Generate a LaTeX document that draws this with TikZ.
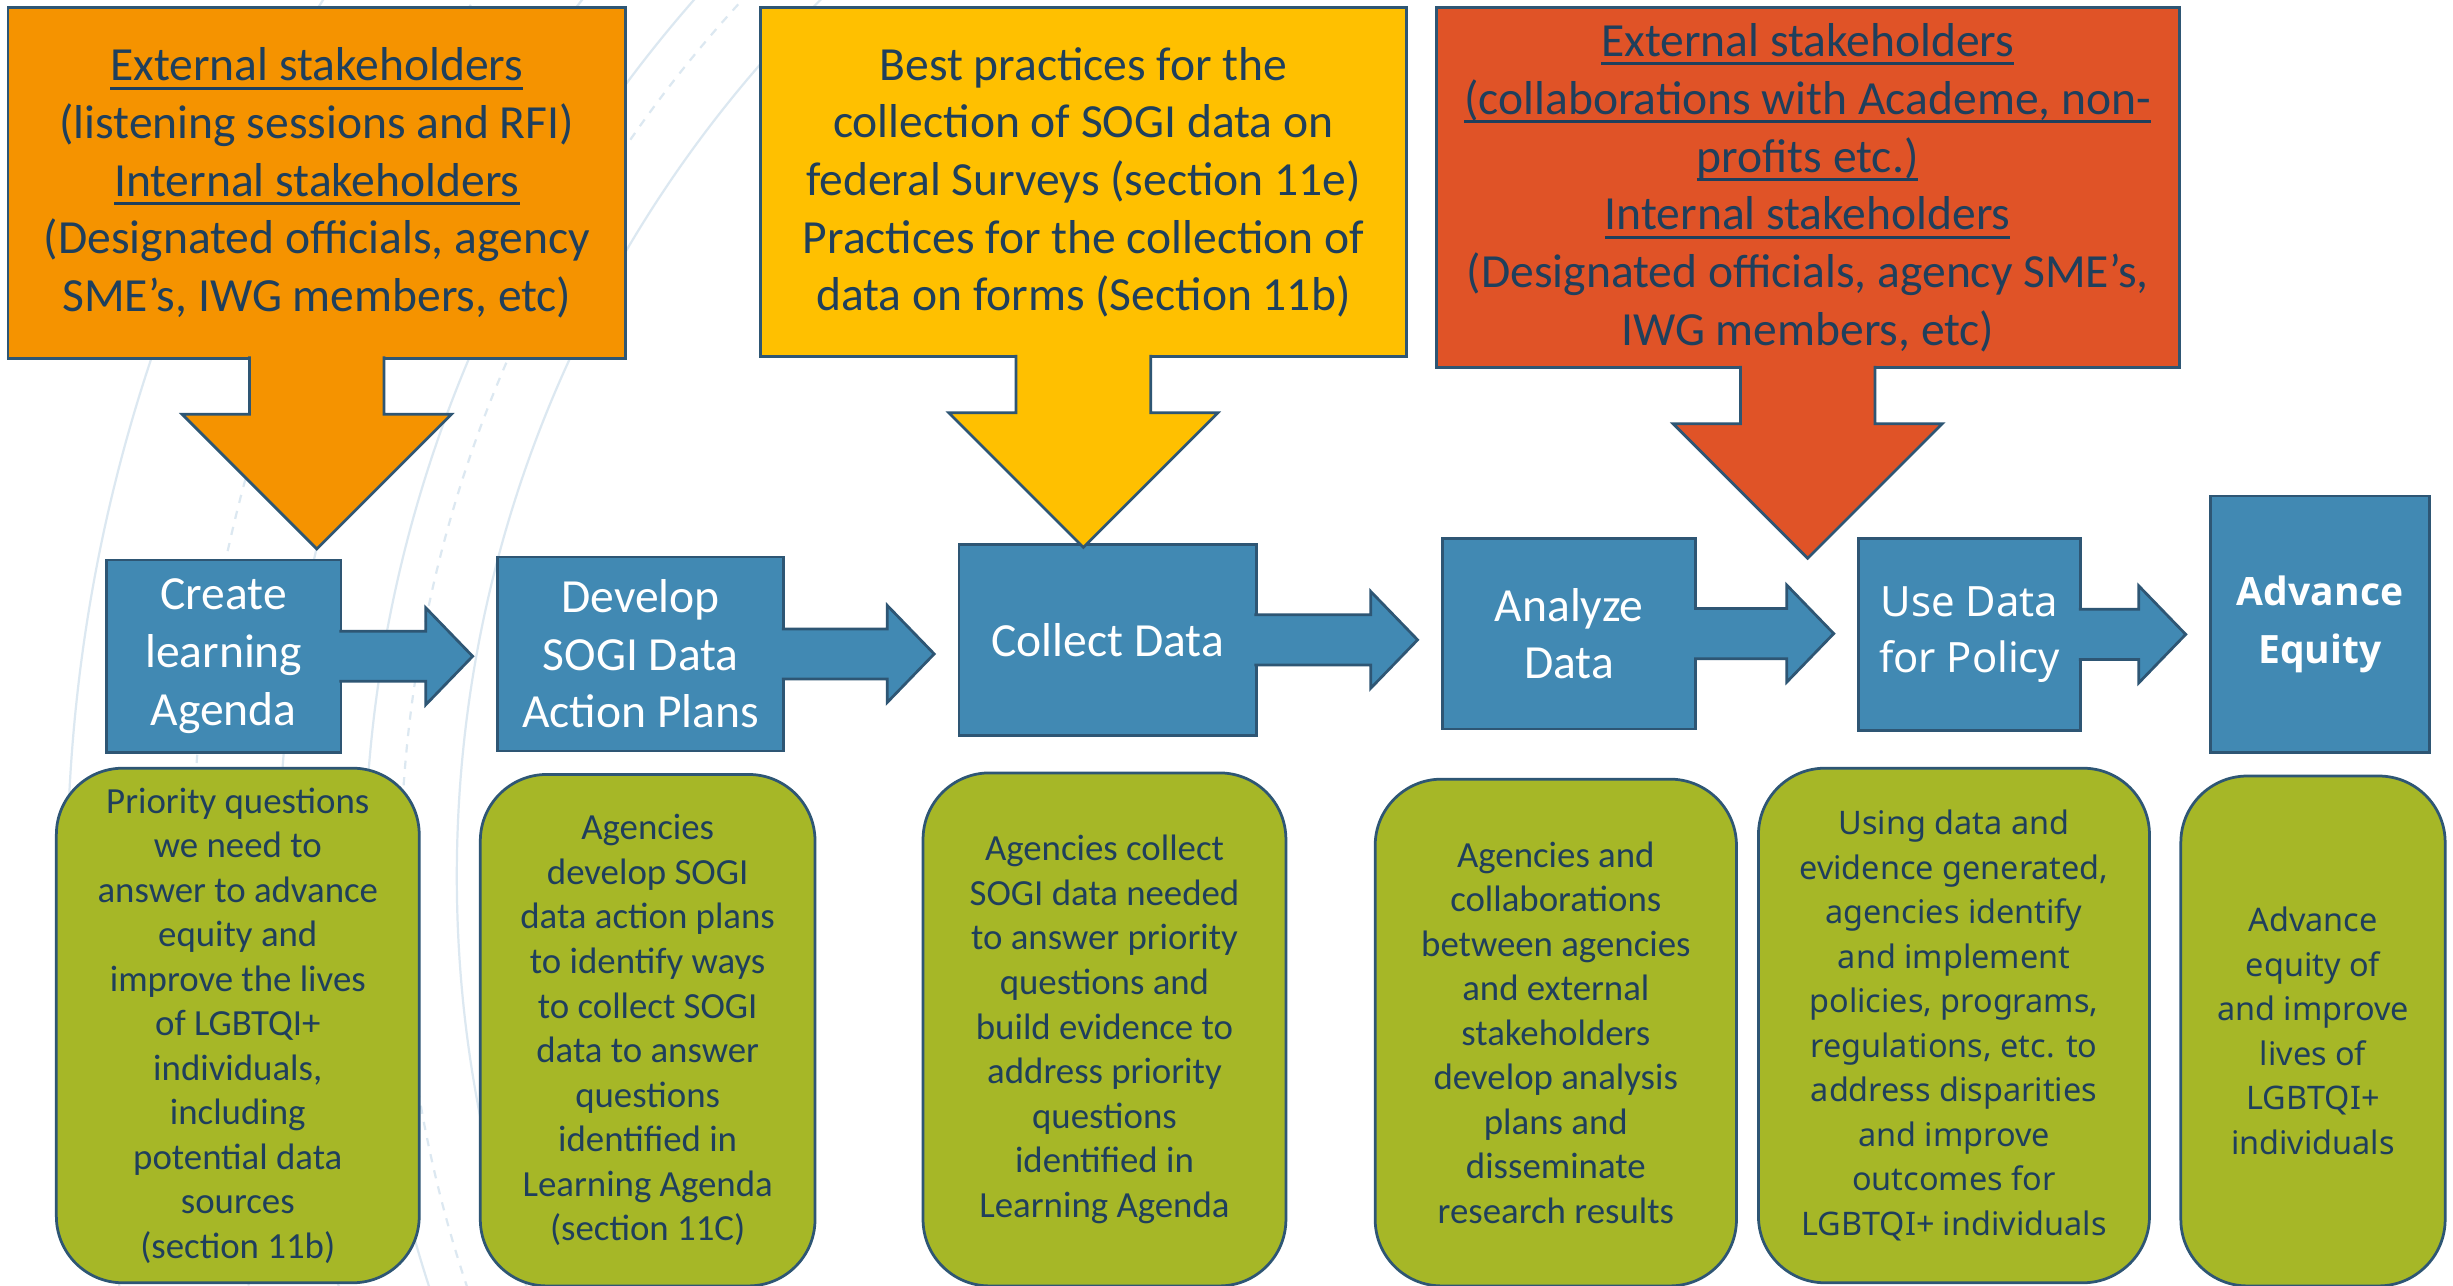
\documentclass[tikz,border=0pt]{standalone}
\usepackage{fontspec}
\setmainfont{Carlito}
\newfontfamily\segoe{Noto Sans}
\newfontfamily\segoebold{Open Sans}
\usetikzlibrary{calc}

\definecolor{edge}{HTML}{2E5674}
\definecolor{ink}{HTML}{1F3F5C}
\definecolor{orangefill}{HTML}{F59300}
\definecolor{yellowfill}{HTML}{FFC000}
\definecolor{redfill}{HTML}{E05327}
\definecolor{bluefill}{HTML}{4189B3}
\definecolor{greenfill}{HTML}{A6B727}
\definecolor{arcline}{HTML}{DCE8F1}

\newsavebox{\ulsave}
\newcommand{\ulbar}[1]{\sbox{\ulsave}{#1}\rlap{\rule[-3.2pt]{\wd\ulsave}{1.1pt}}\usebox{\ulsave}}

% freccia verso il basso sotto un riquadro
\newcommand{\calloutdown}[2]{%
  \filldraw[callout=#2] ($(#1.south)+(-43,-2)$) -- ($(#1.south)+(-43,35)$) -- ($(#1.south)+(-86,35)$)
    -- ($(#1.south)+(0,121)$) -- ($(#1.south)+(86,35)$) -- ($(#1.south)+(43,35)$) -- ($(#1.south)+(43,-2)$);}

% freccia verso destra tra due fasi
\newcommand{\calloutright}[2]{%
  \coordinate (tip) at ($(#1.east -| #2.west)+(-15,0)$);
  \filldraw[callout=bluefill] ($(#1.east)+(-2,-16)$) -- ($(tip)+(-30,-16)$) -- ($(tip)+(-30,-31)$)
    -- (tip) -- ($(tip)+(-30,31)$) -- ($(tip)+(-30,16)$) -- ($(#1.east)+(-2,16)$);}

\begin{document}
\begin{tikzpicture}[x=0.02cm, y=-0.02cm,
    topbox/.style={draw=edge, line width=1pt, text=ink, align=center, inner sep=0pt,
      font=\fontsize{17.3}{21}\selectfont},
    stepbox/.style={draw=edge, line width=1pt, fill=bluefill, text=white, align=center, inner sep=0pt,
      font=\fontsize{17.3}{21}\selectfont},
    notebox/.style={draw=edge, line width=1pt, fill=greenfill, text=ink, align=center, inner sep=0pt,
      rounded corners=0.85cm, font=\fontsize{13.4}{16.2}\selectfont},
    callout/.style={draw=edge, line width=1pt, fill=#1, line join=miter},
    bgarc/.style={draw=arcline, line width=0.8pt}]
  \useasboundingbox (0,0) rectangle (1568,822);
  \clip (0,0) rectangle (1568,822);
  \fill[white] (0,0) rectangle (1568,822);

  % Sfondo
  \foreach \r in {791,850,905,1040}
    \draw[bgarc] (1083,560) circle [radius=\r];
  \foreach \r in {827,960}
    \draw[bgarc, dashed] (1083,560) circle [radius=\r];

  % Riquadri in alto
  \node[topbox, fill=orangefill, minimum width=7.9cm, minimum height=4.48cm] (1) at (202.5,117)
    {\ulbar{External stakeholders}\\(listening sessions and RFI)\\\ulbar{Internal stakeholders}\\(Designated officials, agency\\SME’s, IWG members, etc)};
  \node[topbox, fill=yellowfill, minimum width=8.26cm, minimum height=4.46cm] (2) at (692.5,116.5)
    {Best practices for the\\collection of SOGI data on\\federal Surveys (section 11e)\\Practices for the collection of\\data on forms (Section 11b)};
  \node[topbox, fill=redfill, minimum width=9.5cm, minimum height=4.6cm] (3) at (1155.5,120)
    {\ulbar{External stakeholders}\\\ulbar{(collaborations with Academe, non-}\\\ulbar{profits etc.)}\\\ulbar{Internal stakeholders}\\(Designated officials, agency SME’s,\\IWG members, etc)};

  % Fasi
  \node[stepbox, minimum width=3cm, minimum height=2.46cm] (4) at (143,419.5) {Create\\learning\\Agenda};
  \node[stepbox, minimum width=3.66cm, minimum height=2.48cm] (5) at (409.5,418) {Develop\\SOGI Data\\Action Plans};
  \node[stepbox, minimum width=3.8cm, minimum height=2.44cm] (6) at (708,409) {Collect Data};
  \node[stepbox, minimum width=3.24cm, minimum height=2.44cm] (7) at (1003,405) {Analyze\\Data};
  \node[stepbox, minimum width=2.84cm, minimum height=2.46cm, font=\segoe\fontsize{15.2}{20.5}\selectfont] (8) at (1259,405.5) {Use Data\\for Policy};
  \node[stepbox, minimum width=2.8cm, minimum height=3.28cm, font=\segoebold\bfseries\fontsize{14.2}{21}\selectfont] (9) at (1483,399) {Advance\\Equity};

  % Descrizioni
  \node[notebox, minimum width=4.64cm, minimum height=6.58cm] (10) at (152,655.5)
    {Priority questions\\we need to\\answer to advance\\equity and\\improve the lives\\of LGBTQI+\\individuals,\\including\\potential data\\sources\\(section 11b)};
  \node[notebox, minimum width=4.28cm, minimum height=6.54cm] (11) at (414,658.5)
    {Agencies\\develop SOGI\\data action plans\\to identify ways\\to collect SOGI\\data to answer\\questions\\identified in\\Learning Agenda\\(section 11C)};
  \node[notebox, minimum width=4.64cm, minimum height=6.56cm] (12) at (706,658)
    {Agencies collect\\SOGI data needed\\to answer priority\\questions and\\build evidence to\\address priority\\questions\\identified in\\Learning Agenda};
  \node[notebox, minimum width=4.62cm, minimum height=6.48cm] (13) at (994.5,660)
    {Agencies and\\collaborations\\between agencies\\and external\\stakeholders\\develop analysis\\plans and\\disseminate\\research results};
  \node[notebox, minimum width=5cm, minimum height=6.58cm, font=\segoe\fontsize{11.8}{16.2}\selectfont] (14) at (1249,655.5)
    {Using data and\\evidence generated,\\agencies identify\\and implement\\policies, programs,\\regulations, etc. to\\address disparities\\and improve\\outcomes for\\LGBTQI+ individuals};
  \node[notebox, minimum width=3.38cm, minimum height=6.52cm, font=\segoe\fontsize{11.8}{16.2}\selectfont] (15) at (1478.5,659)
    {Advance\\equity of\\and improve\\lives of\\LGBTQI+\\individuals};

  % Frecce
  \calloutdown{1}{orangefill}
  \calloutdown{2}{yellowfill}
  \calloutdown{3}{redfill}
  \calloutright{4}{5}
  \calloutright{5}{6}
  \calloutright{6}{7}
  \calloutright{7}{8}
  \calloutright{8}{9}
\end{tikzpicture}
\end{document}
